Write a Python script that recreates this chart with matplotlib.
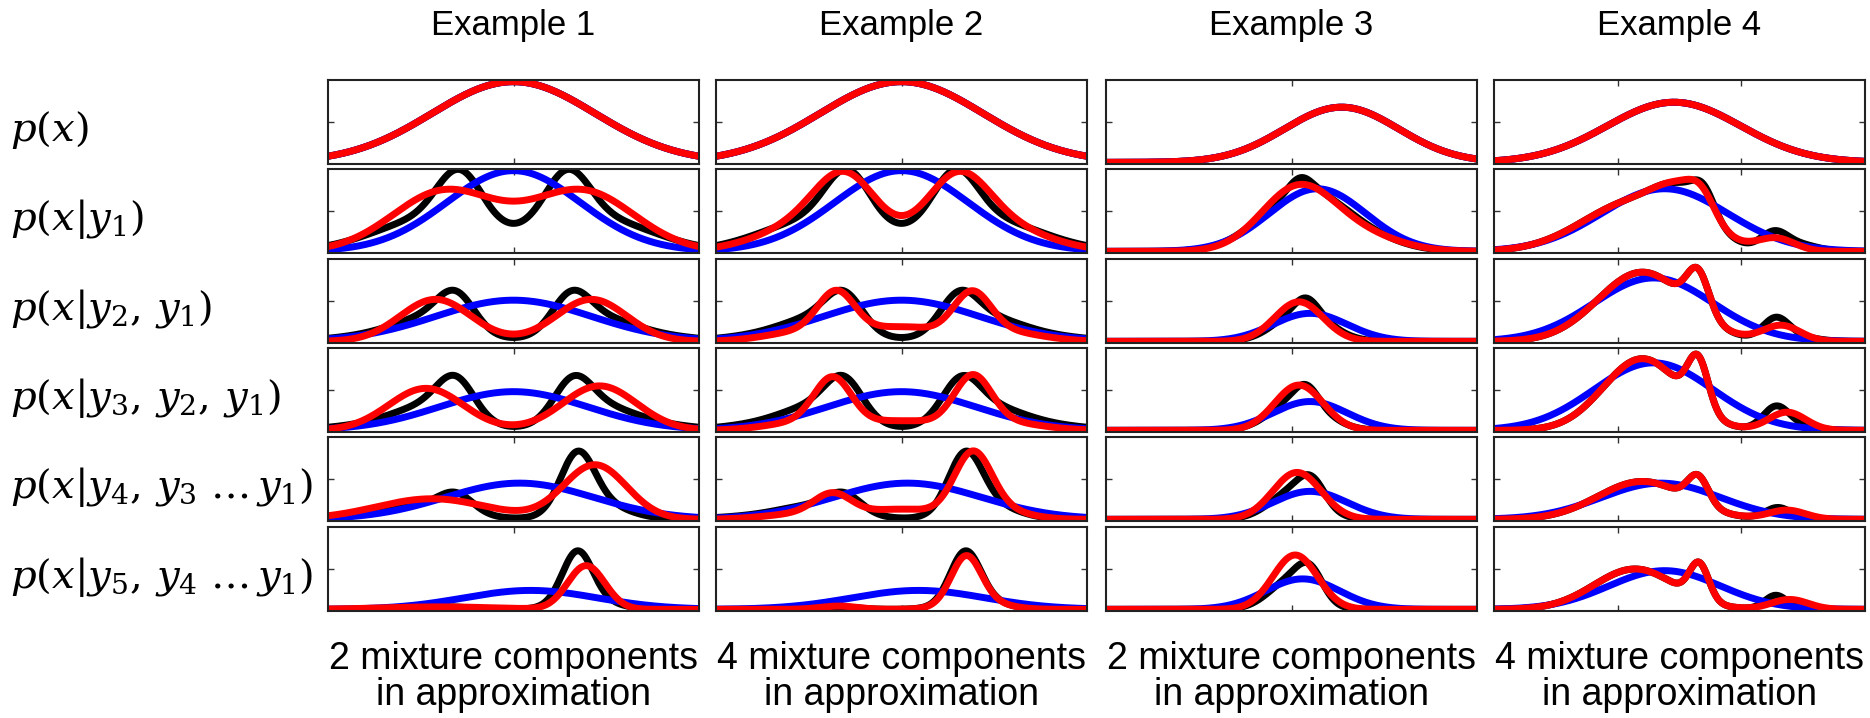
import numpy as np
import matplotlib
matplotlib.use("Agg")
import matplotlib.pyplot as plt

# figure geometry (pixels)
W, H = 1870, 718
col_left = [328, 716, 1106, 1494]
row_top = [80, 169, 259, 348, 437, 527]
pw, ph = 371, 84

col_titles = ["Example 1", "Example 2", "Example 3", "Example 4"]
captions = ["2 mixture components", "4 mixture components",
            "2 mixture components", "4 mixture components"]
caption2 = "in approximation"
row_labels = [r"$p(x)$", r"$p(x|y_1)$", r"$p(x|y_2,\,y_1)$",
              r"$p(x|y_3,\,y_2,\,y_1)$", r"$p(x|y_4,\,y_3\ \ldots\,y_1)$",
              r"$p(x|y_5,\,y_4\ \ldots\,y_1)$"]
xticks = [[0.5], [0.5], [0.5], [1 / 3, 2 / 3]]

# each curve = list of bumps (height, centre, width)
# (x and y both as fraction of the panel)
ex1_true = [
    [(0.98, 0.5, 0.22)],
    [(0.62, 0.355, 0.06), (0.62, 0.645, 0.06), (0.4, 0.28, 0.15), (0.4, 0.72, 0.15)],
    [(0.4, 0.345, 0.05), (0.2, 0.28, 0.09), (0.1, 0.2, 0.14),
     (0.4, 0.655, 0.05), (0.2, 0.72, 0.09), (0.1, 0.8, 0.14)],
    [(0.44, 0.345, 0.05), (0.21, 0.28, 0.09), (0.1, 0.2, 0.14),
     (0.43, 0.66, 0.05), (0.21, 0.72, 0.09), (0.1, 0.8, 0.14)],
    [(0.2, 0.345, 0.045), (0.12, 0.28, 0.09), (0.06, 0.2, 0.14),
     (0.66, 0.672, 0.045), (0.2, 0.72, 0.08)],
    [(0.03, 0.33, 0.05), (0.6, 0.672, 0.04), (0.12, 0.7, 0.07)],
]
ex1_gauss = [
    [(0.98, 0.5, 0.22)],
    [(0.98, 0.5, 0.18)],
    [(0.5, 0.5, 0.21)],
    [(0.47, 0.5, 0.2)],
    [(0.44, 0.516, 0.2)],
    [(0.23, 0.546, 0.18)],
]
ex1_mix = [
    [(0.98, 0.5, 0.22)],
    [(0.73, 0.315, 0.14), (0.73, 0.685, 0.14)],
    [(0.51, 0.29, 0.095), (0.51, 0.71, 0.095)],
    [(0.51, 0.264, 0.1), (0.54, 0.732, 0.1)],
    [(0.25, 0.28, 0.15), (0.66, 0.72, 0.085)],
    [(0.03, 0.3, 0.15), (0.53, 0.696, 0.05)],
]

ex2_true = ex1_true
ex2_gauss = ex1_gauss
ex2_mix = [
    [(0.98, 0.5, 0.22)],
    [(0.62, 0.35, 0.08), (0.62, 0.65, 0.08), (0.38, 0.28, 0.14), (0.38, 0.72, 0.14)],
    [(0.5, 0.325, 0.05), (0.5, 0.69, 0.05), (0.17, 0.5, 0.1),
     (0.12, 0.24, 0.1), (0.12, 0.77, 0.1)],
    [(0.55, 0.315, 0.05), (0.58, 0.692, 0.05), (0.11, 0.5, 0.11),
     (0.1, 0.24, 0.1), (0.1, 0.77, 0.1)],
    [(0.25, 0.315, 0.05), (0.72, 0.692, 0.05), (0.12, 0.5, 0.1),
     (0.07, 0.24, 0.1), (0.12, 0.75, 0.08)],
    [(0.04, 0.33, 0.05), (0.55, 0.674, 0.04), (0.11, 0.7, 0.07)],
]

ex3_true = [
    [(0.67, 0.635, 0.154)],
    [(0.72, 0.53, 0.11), (0.15, 0.525, 0.03), (0.12, 0.7, 0.1)],
    [(0.38, 0.53, 0.07), (0.15, 0.54, 0.03)],
    [(0.4, 0.52, 0.07), (0.17, 0.54, 0.03)],
    [(0.35, 0.51, 0.065), (0.25, 0.555, 0.035)],
    [(0.35, 0.5, 0.06), (0.3, 0.55, 0.035)],
]
ex3_gauss = [
    [(0.67, 0.635, 0.154)],
    [(0.76, 0.57, 0.13)],
    [(0.34, 0.55, 0.1)],
    [(0.35, 0.55, 0.1)],
    [(0.34, 0.55, 0.1)],
    [(0.37, 0.53, 0.1)],
]
ex3_mix = [
    [(0.67, 0.635, 0.154)],
    [(0.78, 0.52, 0.1), (0.16, 0.7, 0.1)],
    [(0.48, 0.52, 0.065)],
    [(0.55, 0.52, 0.065)],
    [(0.57, 0.515, 0.065)],
    [(0.66, 0.51, 0.06)],
]

ex4_true = [
    [(0.73, 0.485, 0.18)],
    [(0.6, 0.38, 0.14), (0.4, 0.51, 0.07), (0.27, 0.565, 0.03),
     (0.2, 0.755, 0.035), (0.08, 0.82, 0.05)],
    [(0.84, 0.4, 0.12), (0.5, 0.55, 0.03), (0.26, 0.76, 0.035), (0.05, 0.82, 0.05)],
    [(0.87, 0.4, 0.105), (0.6, 0.55, 0.028), (0.27, 0.76, 0.035), (0.05, 0.82, 0.05)],
    [(0.46, 0.4, 0.12), (0.33, 0.55, 0.028), (0.14, 0.766, 0.035)],
    [(0.49, 0.38, 0.11), (0.43, 0.553, 0.026), (0.17, 0.76, 0.03)],
]
ex4_gauss = [
    [(0.73, 0.485, 0.18)],
    [(0.76, 0.46, 0.17)],
    [(0.77, 0.43, 0.16)],
    [(0.82, 0.43, 0.16)],
    [(0.44, 0.45, 0.16)],
    [(0.47, 0.46, 0.15)],
]
ex4_mix = [
    [(0.73, 0.485, 0.18)],
    [(0.6, 0.38, 0.14), (0.4, 0.51, 0.07), (0.22, 0.56, 0.035), (0.15, 0.76, 0.05)],
    [(0.84, 0.4, 0.12), (0.5, 0.55, 0.03), (0.19, 0.775, 0.05)],
    [(0.87, 0.4, 0.105), (0.6, 0.55, 0.028), (0.22, 0.79, 0.05)],
    [(0.46, 0.4, 0.12), (0.33, 0.55, 0.028), (0.11, 0.79, 0.05)],
    [(0.49, 0.38, 0.11), (0.43, 0.553, 0.026), (0.12, 0.797, 0.05)],
]

examples = [(ex1_true, ex1_gauss, ex1_mix), (ex2_true, ex2_gauss, ex2_mix),
            (ex3_true, ex3_gauss, ex3_mix), (ex4_true, ex4_gauss, ex4_mix)]

x = np.linspace(0, 1, 600)


def density(bumps):
    y = np.zeros_like(x)
    for h, c, w in bumps:
        y += h * np.exp(-0.5 * ((x - c) / w) ** 2)
    return y


fig = plt.figure(figsize=(W / 100, H / 100), dpi=100)
txt_font = "Liberation Sans"
plt.rcParams["mathtext.fontset"] = "dejavuserif"

for j in range(4):
    for i in range(6):
        ax = fig.add_axes([col_left[j] / W, 1 - (row_top[i] + ph) / H, pw / W, ph / H])
        true_c, gauss_c, mix_c = examples[j]
        ax.plot(x, density(true_c[i]), color="black", lw=5, solid_capstyle="butt")
        ax.plot(x, density(gauss_c[i]), color="#0000ff", lw=5, solid_capstyle="butt")
        ax.plot(x, density(mix_c[i]), color="#ff0000", lw=5, solid_capstyle="butt")
        ax.set_xlim(0, 1)
        ax.set_ylim(-0.02, 1.0)
        ax.set_xticks(xticks[j])
        ax.set_yticks([0.49])
        ax.tick_params(direction="in", top=True, right=True, length=4, width=1,
                       labelbottom=False, labelleft=False, color="#333333")
        for s in ax.spines.values():
            s.set_linewidth(1.5)
            s.set_color("#222222")

    cx = (col_left[j] + pw / 2) / W
    fig.text(cx, 1 - 26 / H, col_titles[j], ha="center", va="center",
             fontsize=25, family=txt_font)
    fig.text(cx, 1 - 659 / H, captions[j], ha="center", va="center",
             fontsize=27, family=txt_font)
    fig.text(cx, 1 - 695 / H, caption2, ha="center", va="center",
             fontsize=27, family=txt_font)

for i in range(6):
    yc = row_top[i] + ph / 2 + 8
    fig.text(10 / W, 1 - yc / H, row_labels[i], ha="left", va="center", fontsize=29)

fig.savefig("out.png", dpi=100)
